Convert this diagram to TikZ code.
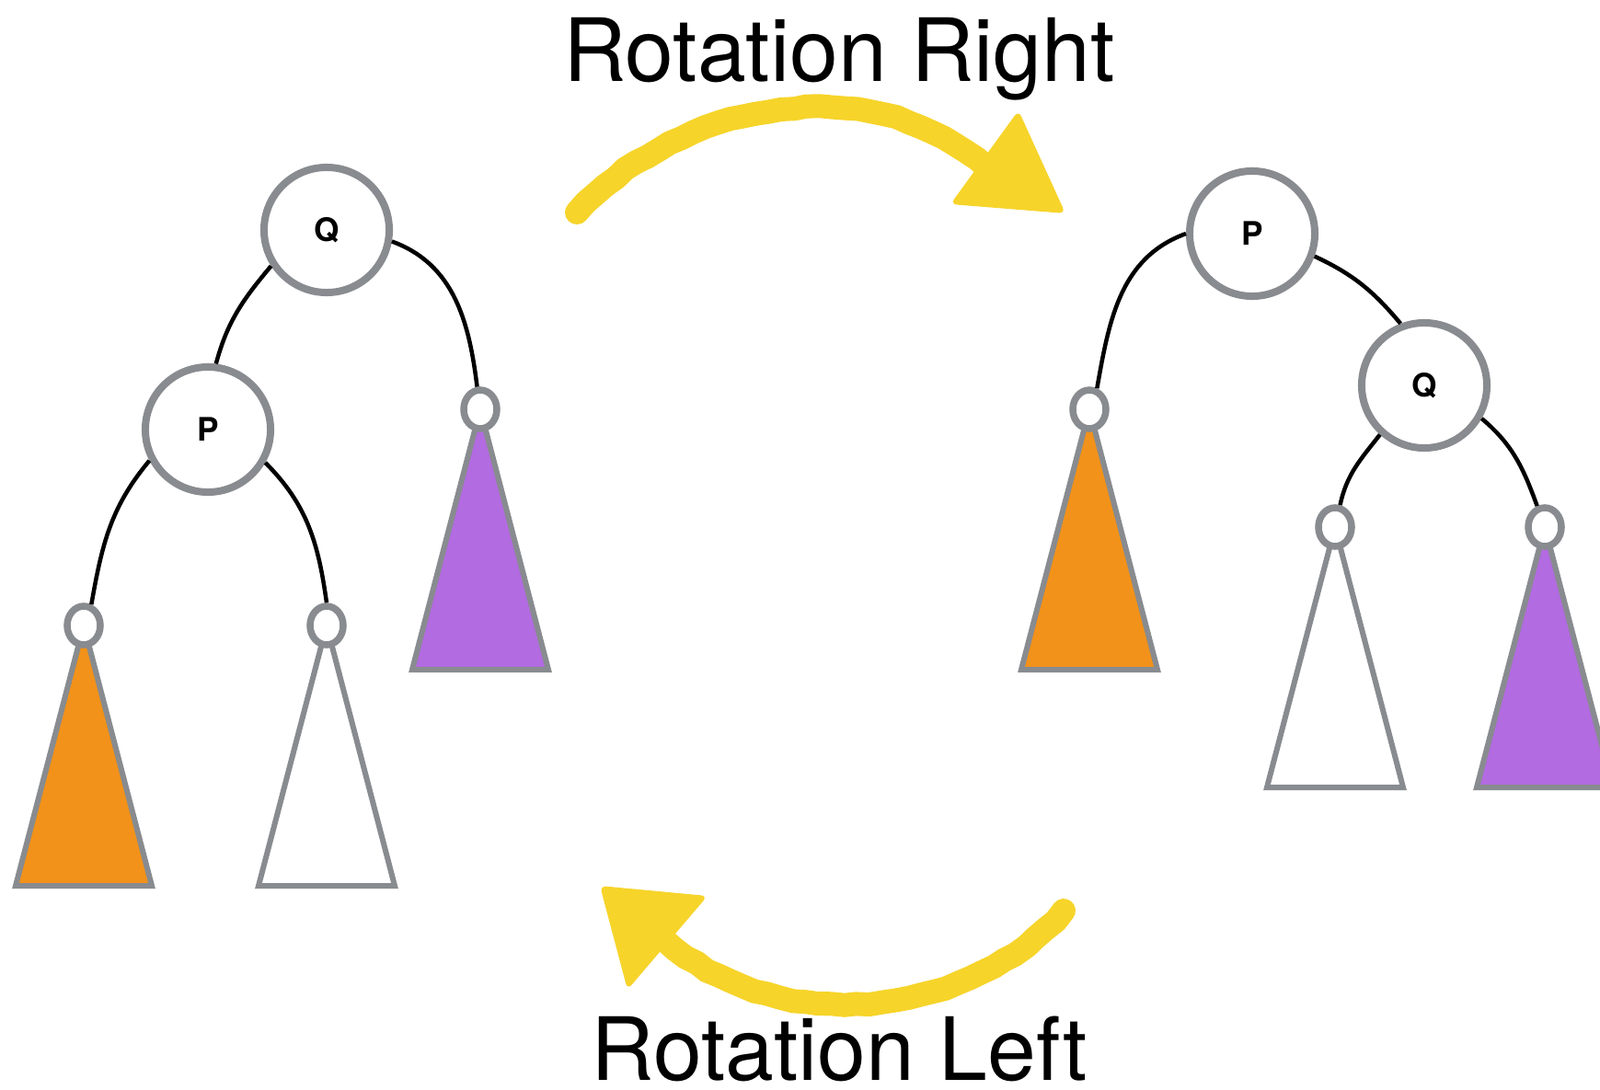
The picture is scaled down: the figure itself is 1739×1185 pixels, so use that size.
\documentclass[tikz,border=0pt]{standalone}
\usepackage{fontspec}
\setmainfont{TeX Gyre Heros}
\usetikzlibrary{decorations.pathmorphing, shapes.geometric}
\definecolor{rimgray}{HTML}{888B8F}
\definecolor{treeorange}{HTML}{F2921A}
\definecolor{treepurple}{HTML}{B26BE0}
\definecolor{crayon}{HTML}{F6D42A}
\begin{document}
\begin{tikzpicture}[x=0.01cm, y=-0.01cm,
    keynode/.style={circle, draw=rimgray, line width=0.08cm, fill=white,
      minimum size=1.36cm, inner sep=0pt,
      font=\fontsize{10}{12}\selectfont\bfseries},
    stub/.style={ellipse, draw=rimgray, line width=0.075cm, fill=white,
      minimum width=0.36cm, minimum height=0.42cm, inner sep=0pt},
    subtree/.style={draw=rimgray, line width=0.06cm},
    link/.style={line width=0.045cm},
    stroke/.style={crayon, line width=0.26cm, line cap=round,
      decorate, decoration={random steps, segment length=4pt, amplitude=0.3pt}},
    title/.style={anchor=base, font=\fontsize{27}{32}\selectfont}]
  \useasboundingbox (0,0) rectangle (1739,1185);
  \clip (0,0) rectangle (1739,1185);

  % subtrees hang below the small stubs
  \foreach \x/\y/\c in {91/680/treeorange, 355/680/white, 522/445/treepurple,
      1184/445/treeorange, 1451/573/white, 1679/573/treepurple}
    \draw[subtree, fill=\c] (\x,\y) -- ++(-74,283) -- ++(148,0) -- cycle;

  % before the rotation
  \node[keynode] (Q1) at (355,250) {Q};
  \node[keynode] (P1) at (226,467) {P};
  \node[stub] (a1) at (91,680) {};
  \node[stub] (b1) at (355,680) {};
  \node[stub] (c1) at (522,445) {};

  \draw[link] (Q1.213) to[out=230, in=75] (P1.83);
  \draw[link] (Q1.-10) to[out=-20, in=97] (c1.98);
  \draw[link] (P1.208) to[out=230, in=80] (a1.70);
  \draw[link] (P1.-30) to[out=-45, in=98] (b1.90);

  % after the rotation
  \node[keynode] (P2) at (1361,254) {P};
  \node[keynode] (Q2) at (1548,419) {Q};
  \node[stub] (a2) at (1184,445) {};
  \node[stub] (b2) at (1451,573) {};
  \node[stub] (c2) at (1679,573) {};

  \draw[link] (P2.180) to[out=200, in=80] (a2.70);
  \draw[link] (P2.-20) to[out=-25, in=130] (Q2.111);
  \draw[link] (Q2.228) to[out=232, in=78] (b2.77);
  \draw[link] (Q2.-30) to[out=-40, in=110] (c2.110);

  % crayon arrows
  \draw[stroke] (627,231) .. controls (740,110) and (950,70) .. (1075,185);
  \fill[crayon, rounded corners=2pt] (1107,120) -- (1033,222) -- (1158,232) -- cycle;
  \draw[stroke] (1156,990) .. controls (1060,1100) and (850,1140) .. (715,1015);
  \fill[crayon, rounded corners=2pt] (652,963) -- (769,974) -- (682,1076) -- cycle;

  \node[title] (right) at (912,89) {Rotation Right};
  \node[title] (left) at (912,1174) {Rotation Left};
\end{tikzpicture}
\end{document}
